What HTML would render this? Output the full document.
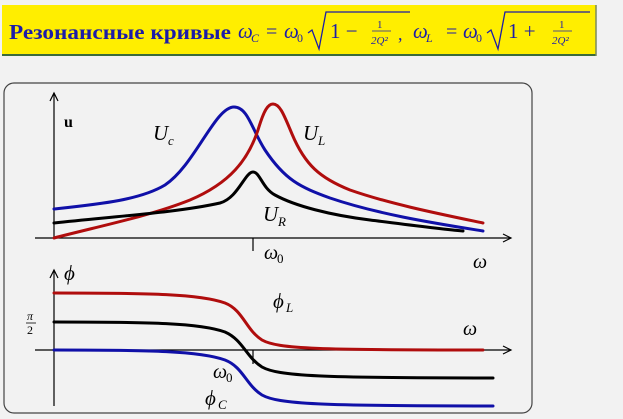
<!DOCTYPE html>
<html><head><meta charset="utf-8"><style>
html,body{margin:0;padding:0;background:#f2f2f2;}
svg{display:block;}
</style></head><body>
<svg width="623" height="419" viewBox="0 0 623 419" xmlns="http://www.w3.org/2000/svg" font-family="Liberation Serif, serif">
<rect x="0" y="0" width="623" height="419" fill="#f2f2f2"/>
<!-- title -->
<rect x="2" y="5" width="594" height="50" fill="#ffee00"/>
<line x1="2" y1="55" x2="596" y2="55" stroke="#3b6b3b" stroke-width="2"/>
<line x1="596" y1="5" x2="596" y2="56" stroke="#7a8a5a" stroke-width="1.5"/>
<g fill="#1c1ca8">
<text x="9" y="39" font-size="21" font-weight="bold" textLength="222" lengthAdjust="spacingAndGlyphs">Резонансные кривые</text>
<text x="238" y="38" font-size="21" font-style="italic">ω</text><text x="251" y="42" font-size="12" font-style="italic">C</text>
<text x="266" y="38" font-size="20">=</text>
<text x="284" y="38" font-size="21" font-style="italic">ω</text><text x="297" y="42" font-size="12">0</text>
<path d="M308,33 L312,30 L319,49 L326,12 L410,12" fill="none" stroke="#1c1ca8" stroke-width="1.3"/>
<text x="330" y="38" font-size="21">1 −</text>
<text x="377" y="28" font-size="11">1</text>
<line x1="372" y1="31" x2="391" y2="31" stroke="#1c1ca8" stroke-width="0.8"/>
<text x="371" y="44" font-size="11" font-style="italic">2Q²</text>
<text x="398" y="40" font-size="18">,</text>
<text x="413" y="38" font-size="21" font-style="italic">ω</text><text x="426" y="42" font-size="12" font-style="italic">L</text>
<text x="446" y="38" font-size="20">=</text>
<text x="463" y="38" font-size="21" font-style="italic">ω</text><text x="476" y="42" font-size="12">0</text>
<path d="M487,33 L491,30 L498,49 L505,12 L590,12" fill="none" stroke="#1c1ca8" stroke-width="1.3"/>
<text x="508" y="38" font-size="21">1 +</text>
<text x="559" y="28" font-size="11">1</text>
<line x1="553" y1="31" x2="572" y2="31" stroke="#1c1ca8" stroke-width="0.8"/>
<text x="552" y="44" font-size="11" font-style="italic">2Q²</text>
</g>
<!-- box -->
<rect x="4" y="83" width="528" height="330" rx="10" fill="#f2f2f2" stroke="#444" stroke-width="1.2"/>
<g stroke="#000" stroke-width="1.2" fill="none">
<line x1="54" y1="238" x2="54" y2="93"/>
<path d="M50,101 L54,93 L58,101"/>
<line x1="35" y1="238" x2="511" y2="238"/>
<path d="M503,234 L511,238 L503,242"/>
<line x1="253" y1="238" x2="253" y2="251"/>
<line x1="54" y1="406" x2="54" y2="270"/>
<path d="M50,278 L54,270 L58,278"/>
<line x1="35" y1="350" x2="511" y2="350"/>
<path d="M503,346 L511,350 L503,354"/>
<line x1="253" y1="350" x2="253" y2="364"/>
</g>
<g fill="none" stroke-width="3" stroke-linecap="round">
<path stroke="#1010a8" d="M54,209 C100,204 140,200 165,185 C195,165 215,107 234,107 C248,107 252,130 265,150 C285,180 300,187 330,198 C380,215 440,224 483,231"/>
<path stroke="#b00d0d" d="M54,238 C100,226 150,216 190,200 C230,183 248,160 258,130 C264,110 268,104 273,104 C280,104 284,115 292,134 C305,165 320,178 350,190 C390,204 440,214 483,223"/>
<path stroke="#000" d="M54,223 C120,216 180,212 220,203 C238,198 245,172 253,172 C260,172 262,188 275,195 C295,206 330,215 370,220 C410,225 440,229 463,231"/>
<path stroke="#b00d0d" d="M54,293 C150,293 200,294 225,303 C243,310 246,330 262,340 C278,349 320,350 483,350"/>
<path stroke="#000" d="M54,322 C150,322 200,323 225,332 C243,340 246,357 262,367 C278,376 320,378 493,378"/>
<path stroke="#1010a8" d="M54,350 C150,350 200,351 225,360 C243,367 246,385 262,395 C278,404 320,406 493,406"/>
</g>
<g fill="#000">
<text x="64" y="127" font-size="16" font-weight="bold">u</text>
<text x="153" y="140" font-size="21" font-style="italic">U</text><text x="168" y="145" font-size="13" font-style="italic">c</text>
<text x="303" y="140" font-size="21" font-style="italic">U</text><text x="318" y="145" font-size="13" font-style="italic">L</text>
<text x="263" y="221" font-size="21" font-style="italic">U</text><text x="278" y="226" font-size="13" font-style="italic">R</text>
<text x="264" y="259" font-size="20" font-style="italic">ω</text><text x="277" y="263" font-size="13">0</text>
<text x="473" y="268" font-size="20" font-style="italic">ω</text>
<text x="64" y="280" font-size="21" font-style="italic">ϕ</text>
<text x="273" y="308" font-size="21" font-style="italic">ϕ</text><text x="286" y="312" font-size="13" font-style="italic">L</text>
<text x="27" y="320" font-size="12" font-style="italic">π</text>
<line x1="26" y1="323" x2="36" y2="323" stroke="#000" stroke-width="0.8"/>
<text x="27" y="334" font-size="12">2</text>
<text x="463" y="335" font-size="20" font-style="italic">ω</text>
<text x="213" y="378" font-size="20" font-style="italic">ω</text><text x="226" y="382" font-size="13">0</text>
<text x="205" y="405" font-size="21" font-style="italic">ϕ</text><text x="218" y="409" font-size="13" font-style="italic">C</text>
</g>
</svg>
</body></html>
